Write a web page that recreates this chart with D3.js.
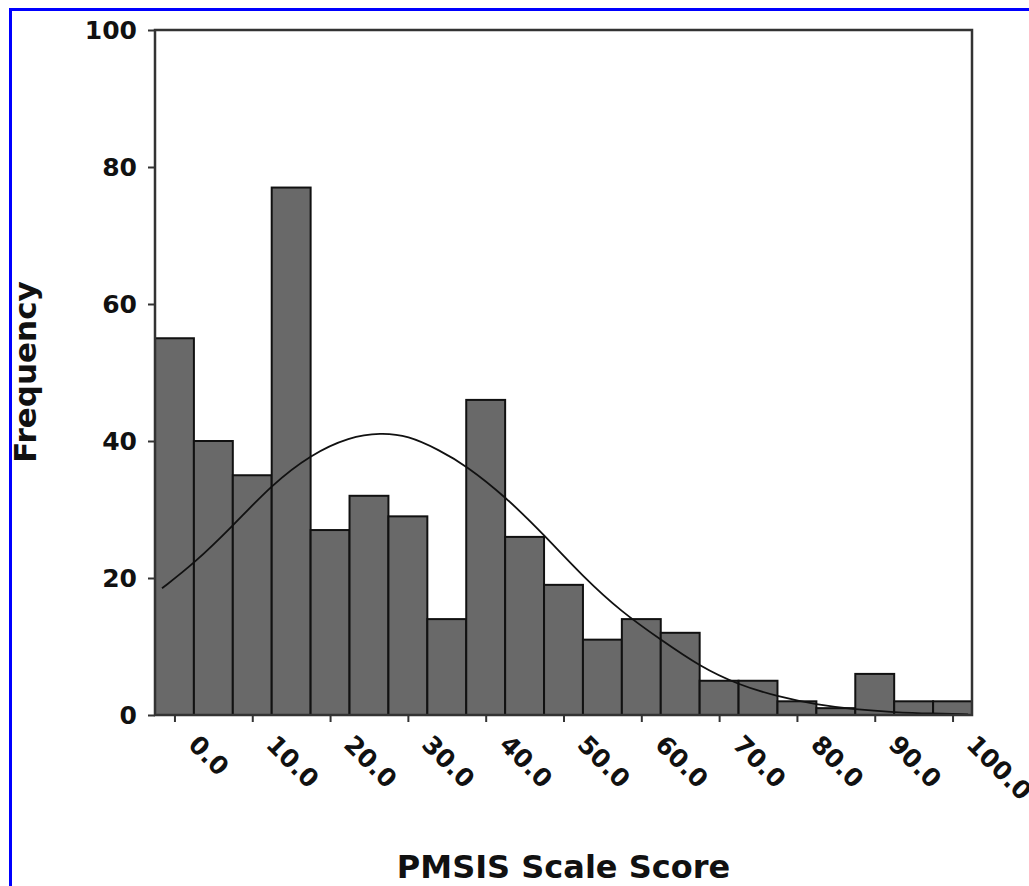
<!DOCTYPE html>
<html>
<head>
<meta charset="utf-8">
<script src="https://cdn.jsdelivr.net/npm/d3@7"></script>
<style>
  body { margin: 0; background: #fff; }
  svg { display: block; }
  .axis text { font-family: "DejaVu Sans", sans-serif; font-weight: bold; font-size: 25px; fill: #111; }
  .title { font-family: "DejaVu Sans", sans-serif; font-weight: bold; fill: #111; }
</style>
</head>
<body>
<div id="chart"></div>
<script>
// Histogram data (bin centres and counts)
const binCenters = [0, 5, 10, 15, 20, 25, 30, 35, 40, 45, 50, 55, 60, 65, 70, 75, 80, 85, 90, 95, 100];
const frequencies = [55, 40, 35, 77, 27, 32, 29, 14, 46, 26, 19, 11, 14, 12, 5, 5, 2, 1, 6, 2, 2];
const binWidth = 5;

// Normal curve overlay
const curveX = [-1.6, 2.5, 7.5, 12.5, 17.5, 22.5, 26.5, 30, 34, 37.5, 42.5, 47.5, 52.5, 57.5, 62.5, 67.5, 72.5, 77.5, 82.5, 87.5, 92.5, 97.5, 102];
const curveY = [18.5, 22.1, 27.6, 33.6, 38.0, 40.6, 41.2, 40.8, 38.7, 36.4, 31.9, 26.3, 20.2, 15.0, 11.0, 7.1, 4.4, 2.7, 1.5, 0.8, 0.4, 0.2, 0.1];

// Axis ticks
const xTicks = [0, 10, 20, 30, 40, 50, 60, 70, 80, 90, 100];
const xTickLabels = ["0.0", "10.0", "20.0", "30.0", "40.0", "50.0", "60.0", "70.0", "80.0", "90.0", "100.0"];
const yTicks = [0, 20, 40, 60, 80, 100];

const width = 1029;
const height = 886;
const plot = { left: 155, right: 972, top: 30, bottom: 715 };

const svg = d3.select("#chart").append("svg")
    .attr("width", width)
    .attr("height", height);

svg.append("rect")
    .attr("width", width)
    .attr("height", height)
    .attr("fill", "#fff");

// blue frame round the picture (only left and top edges are visible)
svg.append("rect")
    .attr("x", 10.5)
    .attr("y", 9.5)
    .attr("width", 1200)
    .attr("height", 1200)
    .attr("fill", "none")
    .attr("stroke", "#0000ff")
    .attr("stroke-width", 3);

const x = d3.scaleLinear()
    .domain([-2.5, 102.5])
    .range([plot.left, plot.right]);

const y = d3.scaleLinear()
    .domain([0, 100])
    .range([plot.bottom, plot.top]);

// Bars
svg.append("g")
    .selectAll("rect")
    .data(binCenters)
    .enter().append("rect")
    .attr("x", d => x(d - binWidth / 2))
    .attr("width", d => x(d + binWidth / 2) - x(d - binWidth / 2))
    .attr("y", (d, i) => y(frequencies[i]))
    .attr("height", (d, i) => y(0) - y(frequencies[i]))
    .attr("fill", "#696969")
    .attr("stroke", "#111")
    .attr("stroke-width", 2);

// Normal curve
const line = d3.line()
    .x(d => x(d[0]))
    .y(d => y(d[1]))
    .curve(d3.curveBasis);

svg.append("path")
    .datum(curveX.map((v, i) => [v, curveY[i]]))
    .attr("d", line)
    .attr("fill", "none")
    .attr("stroke", "#111")
    .attr("stroke-width", 1.8);

// Plot frame
svg.append("rect")
    .attr("x", plot.left)
    .attr("y", plot.top)
    .attr("width", plot.right - plot.left)
    .attr("height", plot.bottom - plot.top)
    .attr("fill", "none")
    .attr("stroke", "#333")
    .attr("stroke-width", 2.5);

// Y axis
const yAxis = svg.append("g")
    .attr("class", "axis")
    .attr("transform", `translate(${plot.left},0)`)
    .call(d3.axisLeft(y).tickValues(yTicks).tickSize(7).tickPadding(11));
yAxis.select(".domain").remove();
yAxis.selectAll(".tick line").attr("stroke", "#333").attr("stroke-width", 2);

// X axis
const xAxis = svg.append("g")
    .attr("class", "axis")
    .attr("transform", `translate(0,${plot.bottom})`)
    .call(d3.axisBottom(x).tickValues(xTicks).tickSize(7)
        .tickFormat((d, i) => xTickLabels[i]));
xAxis.select(".domain").remove();
xAxis.selectAll(".tick line").attr("stroke", "#333").attr("stroke-width", 2);
xAxis.selectAll(".tick text")
    .attr("x", 0)
    .attr("y", 0)
    .attr("dy", 0)
    .attr("text-anchor", "start")
    .attr("transform", "translate(12,31) rotate(45)");

// Axis titles
svg.append("text")
    .attr("class", "title")
    .attr("transform", "translate(36,372) rotate(-90)")
    .attr("text-anchor", "middle")
    .style("font-size", "31px")
    .text("Frequency");

svg.append("text")
    .attr("class", "title")
    .attr("x", (plot.left + plot.right) / 2)
    .attr("y", 878)
    .attr("text-anchor", "middle")
    .style("font-size", "32px")
    .text("PMSIS Scale Score");
</script>
</body>
</html>
